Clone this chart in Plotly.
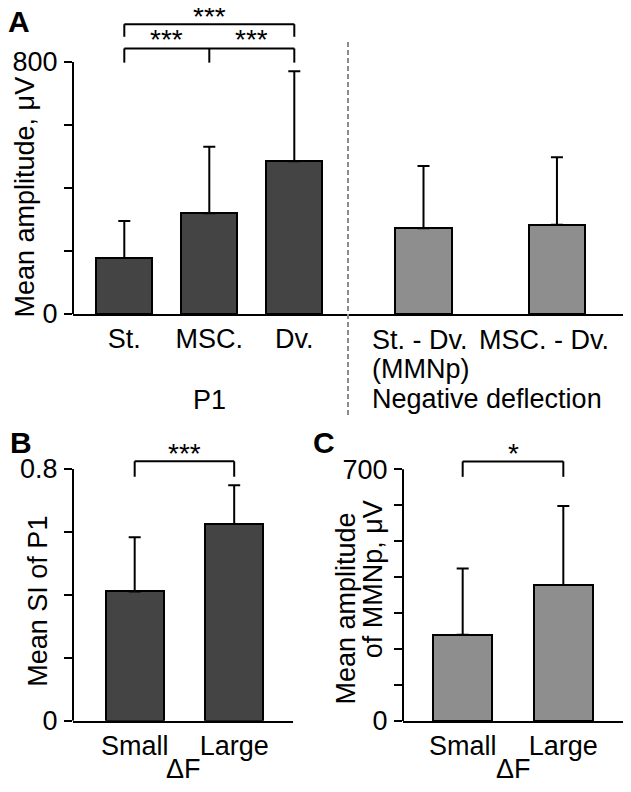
import plotly.graph_objects as go

# ---------------- data ----------------
a_categories = ["St.", "MSC.", "Dv.", "St. - Dv.", "MSC. - Dv."]
a_groups = ["P1", "P1", "P1", "Negative deflection", "Negative deflection"]
a_means = [178, 320, 485, 272, 283]
a_errors = [117, 211, 286, 198, 215]
a_yticks = [0, 200, 400, 600, 800]
a_yticklabels = ["0", "", "", "", "800"]

b_categories = ["Small", "Large"]
b_means = [0.411, 0.625]
b_errors = [0.172, 0.123]
b_yticks = [0, 0.2, 0.4, 0.6, 0.8]
b_yticklabels = ["0", "", "", "", "0.8"]

c_categories = ["Small", "Large"]
c_means = [240, 378]
c_errors = [184, 220]
c_yticks = [0, 100, 200, 300, 400, 500, 600, 700]
c_yticklabels = ["0", "", "", "", "", "", "", "700"]

# ---------------- layout helpers ----------------
a_xpos = [0, 1, 2, 3.52, 5.09]
DARK = "#444444"
LIGHT = "#8e8e8e"
FONT = "Liberation Sans, Arial, Helvetica, sans-serif"
FS = 27
OFF = 8                      # page body margin
W, H = 631 - 2 * OFF, 792 - 2 * OFF


def px_x(X):
    return (X - OFF) / W


def px_y(Y):
    return 1 - (Y - OFF) / H


a_colors = [DARK if g == "P1" else LIGHT for g in a_groups]

fig = go.Figure()

err_style = dict(type="data", symmetric=False, color="black", thickness=2, width=6)

fig.add_trace(go.Bar(
    x=a_xpos, y=a_means, width=0.66,
    marker=dict(color=a_colors, line=dict(color="black", width=2)),
    error_y=dict(array=a_errors, arrayminus=[0] * len(a_errors), **err_style),
    xaxis="x", yaxis="y", showlegend=False,
))
fig.add_trace(go.Bar(
    x=b_categories, y=b_means, width=0.58,
    marker=dict(color=DARK, line=dict(color="black", width=2)),
    error_y=dict(array=b_errors, arrayminus=[0] * len(b_errors), **err_style),
    xaxis="x2", yaxis="y2", showlegend=False,
))
fig.add_trace(go.Bar(
    x=c_categories, y=c_means, width=0.59,
    marker=dict(color=LIGHT, line=dict(color="black", width=2)),
    error_y=dict(array=c_errors, arrayminus=[0] * len(c_errors), **err_style),
    xaxis="x3", yaxis="y3", showlegend=False,
))

tickfont = dict(family=FONT, size=FS, color="black")
common_y = dict(showline=False, ticks="outside", ticklen=8, tickwidth=2, tickcolor="black",
                showgrid=False, zeroline=False, tickfont=tickfont, automargin=False,
                ticklabelstandoff=1)
common_x = dict(showline=True, linewidth=2, linecolor="black", ticks="", showgrid=False,
                zeroline=False, tickfont=tickfont, automargin=False)

fig.update_layout(
    width=W, height=H, margin=dict(l=0, r=0, t=0, b=0, autoexpand=False),
    paper_bgcolor="white", plot_bgcolor="white",
    font=dict(family=FONT, size=FS, color="black"),
    bargap=0,
    xaxis=dict(domain=[px_x(73), px_x(623)], range=[-0.6035, 5.867], tickvals=a_xpos[:3],
               ticktext=a_categories[:3], anchor="y", **common_x),
    yaxis=dict(domain=[px_y(314), 1.0], range=[0, 800 * (314 - OFF) / 252], tickvals=a_yticks,
               ticktext=a_yticklabels, anchor="x", **common_y),
    xaxis2=dict(domain=[px_x(73), px_x(293)], range=[-0.62, 1.591], anchor="y2", **common_x),
    yaxis2=dict(domain=[px_y(720.7), px_y(440)], range=[0, 0.8 * 280.7 / 251.7],
                tickvals=b_yticks, ticktext=b_yticklabels, anchor="x2", **common_y),
    xaxis3=dict(domain=[px_x(403), px_x(623)], range=[-0.593, 1.593], anchor="y3", **common_x),
    yaxis3=dict(domain=[px_y(721), px_y(440)], range=[0, 700 * 281 / 251.7],
                tickvals=c_yticks, ticktext=c_yticklabels, anchor="x3", **common_y),
)

shapes = []
line_k = dict(color="black", width=2)
# y-axis lines up to the top tick
for xr, yr, top in [("x domain", "y", a_yticks[-1]), ("x2 domain", "y2", b_yticks[-1]),
                    ("x3 domain", "y3", c_yticks[-1])]:
    shapes.append(dict(type="line", xref=xr, yref=yr, x0=0, x1=0, y0=0, y1=top, line=line_k))


def bracket(xr, yr, x0, x1, ytop, yleg, mids=()):
    out = [dict(type="line", xref=xr, yref=yr, x0=x0, x1=x1, y0=ytop, y1=ytop, line=line_k),
           dict(type="line", xref=xr, yref=yr, x0=x0, x1=x0, y0=ytop, y1=yleg, line=line_k),
           dict(type="line", xref=xr, yref=yr, x0=x1, x1=x1, y0=ytop, y1=yleg, line=line_k)]
    for m in mids:
        out.append(dict(type="line", xref=xr, yref=yr, x0=m, x1=m, y0=ytop, y1=yleg, line=line_k))
    return out


shapes += bracket("x", "y", a_xpos[0], a_xpos[2], 920, 880)
shapes += bracket("x", "y", a_xpos[0], a_xpos[2], 843, 798, mids=[a_xpos[1]])
shapes += bracket("x2", "y2", 0, 1, 0.8245, 0.7755)
shapes += bracket("x3", "y3", 0, 1, 722, 679)
# dashed separator
shapes.append(dict(type="line", xref="x domain", yref="paper", x0=0.5, x1=0.5,
                   y0=px_y(415), y1=px_y(40),
                   line=dict(color="#8a8a8a", width=2, dash="5px,3px")))
fig.update_layout(shapes=shapes)

ann = []
star = dict(showarrow=False, font=dict(family=FONT, size=28, color="black"),
            xanchor="center", yanchor="middle", yshift=-3)
ann.append(dict(text="***", xref="x", yref="y", x=a_xpos[1], y=955, **star))
ann.append(dict(text="***", xref="x", yref="y", x=(a_xpos[0] + a_xpos[1]) / 2, y=880, **star))
ann.append(dict(text="***", xref="x", yref="y", x=(a_xpos[1] + a_xpos[2]) / 2, y=880, **star))
ann.append(dict(text="***", xref="x2", yref="y2", x=0.5, y=0.860, **star))
ann.append(dict(text="*", xref="x3", yref="y3", x=0.5, y=751, **star))

lab = dict(showarrow=False, font=dict(family=FONT, size=FS, color="black"), yanchor="middle")
ann.append(dict(text=a_categories[3], xref="x", yref="paper", x=a_xpos[3], xanchor="left",
                xshift=-54, y=px_y(340), **lab))
ann.append(dict(text="(MMNp)", xref="x", yref="paper", x=a_xpos[3], xanchor="left",
                xshift=-54, y=px_y(368.6), **lab))
ann.append(dict(text=a_groups[3], xref="x", yref="paper", x=a_xpos[3], xanchor="left",
                xshift=-54, y=px_y(398.6), **lab))
ann.append(dict(text=a_categories[4], xref="x", yref="paper", x=a_xpos[4], xanchor="left",
                xshift=-80, y=px_y(340), **lab))
ann.append(dict(text=a_groups[0], xref="x", yref="paper", x=a_xpos[1], xanchor="center",
                y=px_y(400), **lab))
# x-axis titles of B and C
ann.append(dict(text="ΔF", xref="x2 domain", yref="paper", x=0.5, xanchor="center",
                y=px_y(769), **lab))
ann.append(dict(text="ΔF", xref="x3 domain", yref="paper", x=0.5, xanchor="center",
                y=px_y(769), **lab))

# y-axis titles
ttl = dict(showarrow=False, font=dict(family=FONT, size=FS, color="black"), textangle=-90,
           xref="paper", yref="paper", xanchor="center", yanchor="middle")
ann.append(dict(text="Mean amplitude, μV", x=px_x(24), y=px_y(197.5), **ttl))
ann.append(dict(text="Mean SI of P1", x=px_x(38), y=px_y(601.7), **ttl))
ann.append(dict(text="Mean amplitude", x=px_x(345), y=px_y(608.5), **ttl))
ann.append(dict(text="of MMNp, μV", x=px_x(373.3), y=px_y(579), **ttl))

# panel letters
letter = dict(showarrow=False, font=dict(family=FONT, size=30, color="black"),
              xref="paper", yref="paper", xanchor="center", yanchor="middle")
ann.append(dict(text="<b>A</b>", x=px_x(19), y=px_y(21), **letter))
ann.append(dict(text="<b>B</b>", x=px_x(21), y=px_y(442), **letter))
ann.append(dict(text="<b>C</b>", x=px_x(324), y=px_y(442), **letter))

fig.update_layout(annotations=ann)
fig.write_html("out.html")
